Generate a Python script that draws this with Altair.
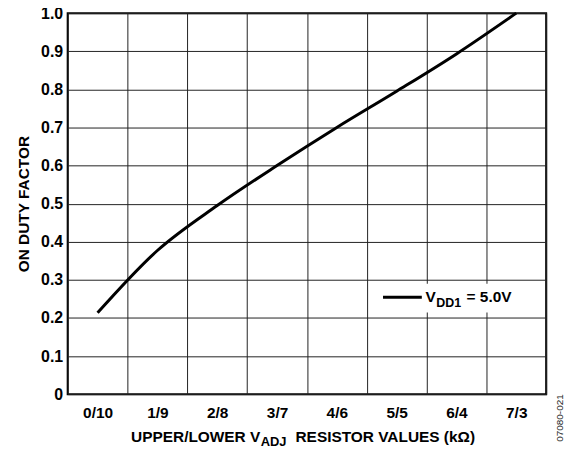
import altair as alt
import pandas as pd

# ---- data ----
categories = ["0/10", "1/9", "2/8", "3/7", "4/6", "5/5", "6/4", "7/3"]
on_duty = [0.2135, 0.377, 0.495, 0.60, 0.70, 0.795, 0.893, 1.0]
y_ticks = [0, 0.1, 0.2, 0.3, 0.4, 0.5, 0.6, 0.7, 0.8, 0.9, 1.0]

df = pd.DataFrame({"ratio": categories, "duty": on_duty})
one = alt.Data(values=[{"k": 0}])

FONT = "Liberation Sans"
W, H = 481, 383

x_enc = alt.X(
    "ratio:O",
    sort=categories,
    scale=alt.Scale(type="band", paddingInner=0, paddingOuter=0),
    axis=alt.Axis(
        tickBand="extent", grid=True, ticks=False, domain=False, labelAngle=0,
        title=None, labelFont=FONT, labelFontSize=15.5, labelFontWeight="bold",
        labelColor="black", labelPadding=11, gridColor="#222222", gridWidth=1,
        gridOpacity=1,
    ),
)
y_enc = alt.Y(
    "duty:Q",
    scale=alt.Scale(domain=[0, 1], nice=False, zero=True),
    axis=alt.Axis(
        values=y_ticks, grid=True, ticks=False, domain=False,
        labelExpr="datum.value == 0 ? '0' : format(datum.value, '.1f')",
        title="ON DUTY FACTOR", titleFont=FONT, titleFontSize=15.5,
        titleFontWeight="bold", titleColor="black", titlePadding=9,
        labelFont=FONT, labelFontSize=16, labelFontWeight="bold",
        labelColor="black", labelPadding=5, gridColor="#222222", gridWidth=1,
        gridOpacity=1,
    ),
)

curve = alt.Chart(df).mark_line(
    color="black", strokeWidth=3, interpolate="monotone"
).encode(x=x_enc, y=y_enc)

# legend box
box = alt.Chart(one).mark_rect(color="white").encode(
    x=alt.value(312), x2=alt.value(456), y=alt.value(272), y2=alt.value(301)
)
leg_line = alt.Chart(one).mark_rule(color="black", strokeWidth=3).encode(
    x=alt.value(317), x2=alt.value(356), y=alt.value(285.7)
)

def txt(s, x, y, size, weight="bold", **kw):
    return alt.Chart(one).mark_text(
        text=s, font=FONT, fontSize=size, fontWeight=weight, color="black",
        align="left", baseline="alphabetic", **kw
    ).encode(x=alt.value(x), y=alt.value(y))

leg_v = txt("V", 359.7, 290.7, 15.5)
leg_sub = txt("DD1", 370.5, 295, 12.5)
leg_eq = txt("= 5.0V", 401, 290.7, 15.5)

xt1 = txt("UPPER/LOWER V", 63.7, 431, 15.5)
xt2 = txt("ADJ", 194, 435, 13)
xt3 = txt("RESISTOR VALUES (kΩ)", 229, 431, 15.5)

code = alt.Chart(one).mark_text(
    text="07080-021", font=FONT, fontSize=10, color="#222222",
    angle=270, align="center", baseline="middle"
).encode(x=alt.value(494.5), y=alt.value(407))

chart = alt.layer(
    curve, box, leg_line, leg_v, leg_sub, leg_eq, xt1, xt2, xt3, code
).properties(
    width=W, height=H,
    autosize=alt.AutoSizeParams(type="none"),
    padding={"left": 60, "top": 4, "right": 30, "bottom": 56},
).configure_view(stroke="black", strokeWidth=2)

chart.save("out.html", embed_options={"renderer": "svg", "actions": False})
